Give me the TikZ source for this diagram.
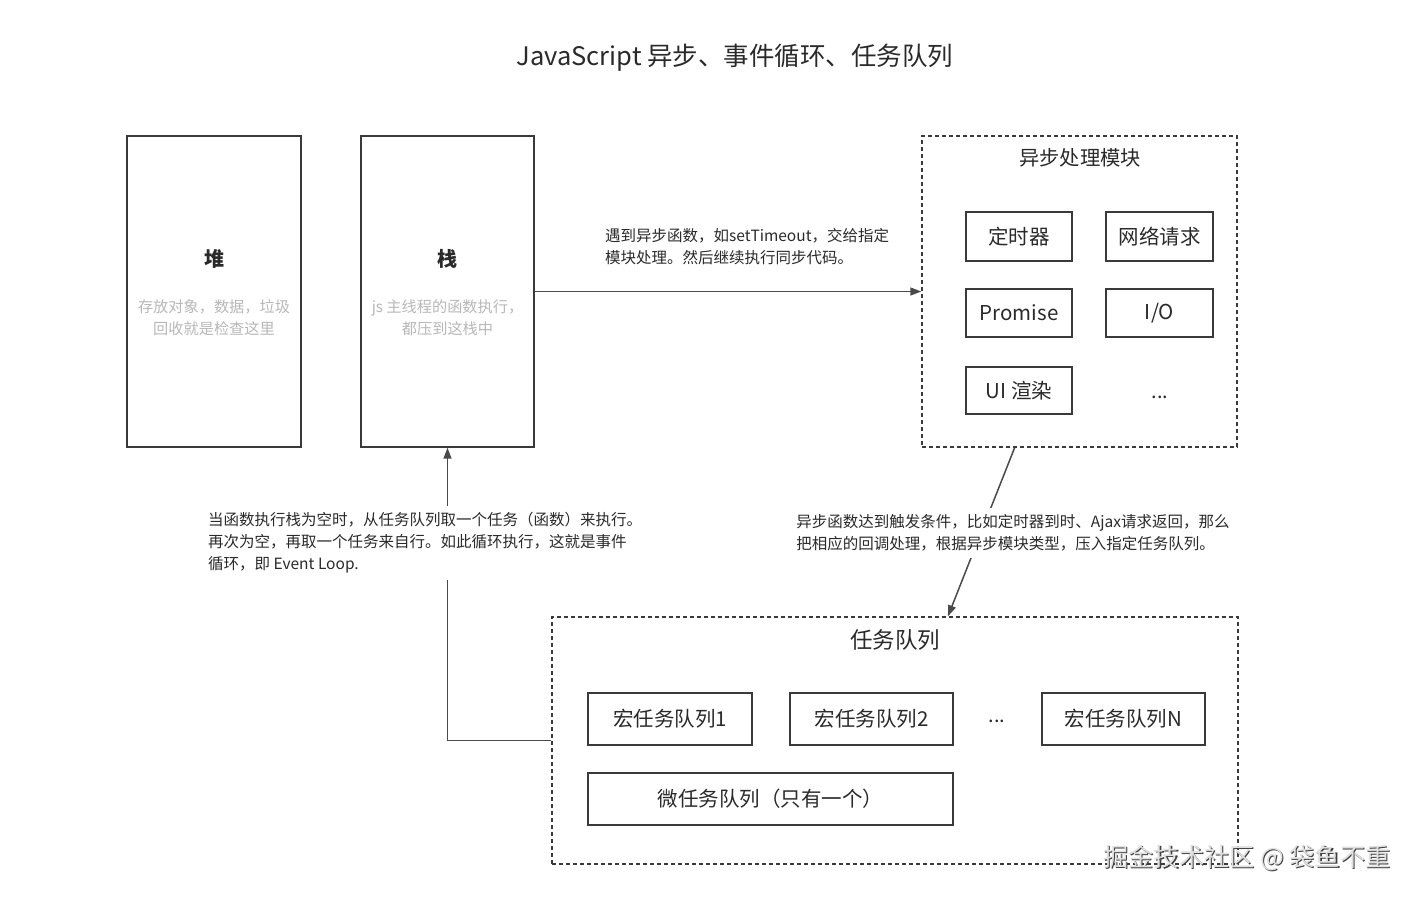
\documentclass[tikz,border=0pt]{standalone}
\usepackage{fontspec}
\setmainfont{Noto Sans CJK SC}
\usetikzlibrary{arrows.meta,calc}
\definecolor{ink}{HTML}{2A2A2A}
\definecolor{edge}{HTML}{3A3A3A}
\definecolor{faint}{HTML}{B8B8B8}
\definecolor{wire}{HTML}{4A4A4A}
\tikzset{
  box/.style={draw=edge,line width=1.4pt,inner sep=0pt,text=ink,font=\fontsize{20.5}{24}\selectfont},
  group/.style={draw=edge,line width=1.4pt,dash pattern=on 4pt off 3pt,inner sep=0pt},
  arr/.style={draw=wire,line width=1.5pt,-{Triangle[length=11pt,width=8pt]}},
  note/.style={text=ink,align=left,font=\fontsize{15.5}{22}\selectfont,inner sep=7pt,fill=white},
  grey/.style={text=faint,align=center,font=\fontsize{15.2}{22}\selectfont},
}
\begin{document}
\begin{tikzpicture}[x=1pt,y=-1pt]
\useasboundingbox (0,0) rectangle (1414,898);
\fill[white] (0,0) rectangle (1414,898);
% title
\node[text=ink,font=\fontsize{25.5}{30}\selectfont] (title) at (735,58) {JavaScript 异步、事件循环、任务队列};
% heap & stack
\node[box,minimum width=174pt,minimum height=311pt] (heap) at (214,291.5) {};
\node[text=ink,font=\bfseries\fontsize{20}{24}\selectfont] (heapT) at (214,259) {堆};
\node[grey] (heapD) at (214,318) {存放对象，数据，垃圾\\回收就是检查这里};
\node[box,minimum width=173pt,minimum height=311pt] (stack) at (447.5,291.5) {};
\node[text=ink,font=\bfseries\fontsize{20}{24}\selectfont] (stackT) at (447.5,259) {栈};
\node[grey] (stackD) at (447.5,318) {js 主线程的函数执行，\\都压到这栈中};
% async module
\node[group,minimum width=315pt,minimum height=311pt] (async) at (1079.5,291.5) {};
\node[text=ink,font=\fontsize{20.3}{24}\selectfont] (asyncT) at (1080,158) {异步处理模块};
\node[box,minimum width=106pt,minimum height=49pt] (timer) at (1019,236.5) {定时器};
\node[box,minimum width=107pt,minimum height=49pt] (net) at (1159.5,236.5) {网络请求};
\node[box,minimum width=106pt,minimum height=48pt] (prom) at (1019,313) {Promise};
\node[box,minimum width=107pt,minimum height=48pt] (io) at (1159.5,313) {I/O};
\node[box,minimum width=106pt,minimum height=47pt] (ui) at (1019,390.5) {UI 渲染};
\node[text=ink,font=\fontsize{20}{24}\selectfont] (adots) at (1160,397) {...};
% task queue
\node[group,minimum width=686pt,minimum height=247pt] (task) at (895,740.5) {};
\node[text=ink,font=\fontsize{22.5}{26}\selectfont] (taskT) at (895,640) {任务队列};
\node[box,minimum width=164pt,minimum height=52pt] (m1) at (670,719) {宏任务队列1};
\node[box,minimum width=163pt,minimum height=52pt] (m2) at (871.5,719) {宏任务队列2};
\node[text=ink,font=\fontsize{20}{24}\selectfont] (tdots) at (997,721) {...};
\node[box,minimum width=163pt,minimum height=52pt] (mn) at (1123.5,719) {宏任务队列N};
\node[box,minimum width=365pt,minimum height=52pt] (micro) at (770.5,799) {微任务队列（只有一个）};
% arrow stack -> async
\draw[arr] (stack.east) -- (async.west);
\node[note,anchor=west,fill=none] (l1) at (598,247) {遇到异步函数，如setTimeout，交给指定\\模块处理。然后继续执行同步代码。};
% arrow async -> task queue
\coordinate (a2s) at ($(async.south west)!0.295!(async.south east)$);
\coordinate (a2e) at ($(task.north west)!0.577!(task.north east)$);
\draw[arr] (a2s) -- (a2e);
\node[note] (l2) at (1013,533) {异步函数达到触发条件，比如定时器到时、Ajax请求返回，那么\\把相应的回调处理，根据异步模块类型，压入指定任务队列。};
% loop arrow task queue -> stack
\draw[arr] (task.west) -| (stack.south);
\node[note,anchor=west] (l3) at (201,543) {当函数执行栈为空时，从任务队列取一个任务（函数）来执行。\\再次为空，再取一个任务来自行。如此循环执行，这就是事件\\循环，即 Event Loop.};
% watermark
\node[text=black!75,font=\fontsize{25.2}{28}\selectfont] at (1248.2,859.2) {掘金技术社区 @ 袋鱼不重};
\node[text=black!12,font=\fontsize{25.2}{28}\selectfont] (wm) at (1247,858) {掘金技术社区 @ 袋鱼不重};
\end{tikzpicture}
\end{document}
